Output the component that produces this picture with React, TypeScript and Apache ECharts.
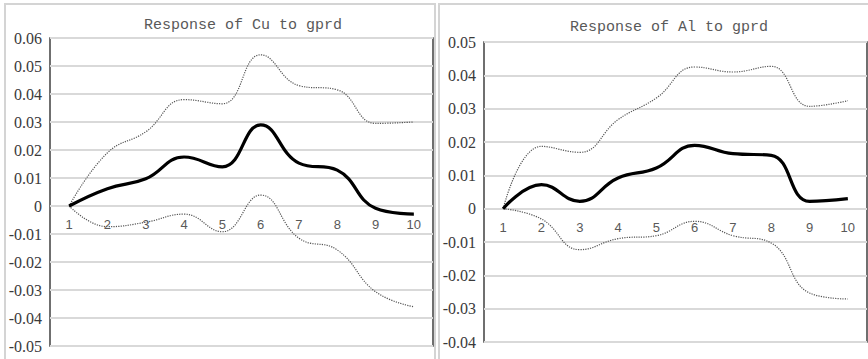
import React, { useEffect, useRef } from "react";
import * as echarts from "echarts";

const periods = ["1", "2", "3", "4", "5", "6", "7", "8", "9", "10"];

const cuResponse = [0, 0.0062, 0.0097, 0.0175, 0.014, 0.029, 0.0153, 0.0128, -0.0008, -0.0029];
const cuUpper = [0, 0.019, 0.0265, 0.038, 0.0365, 0.054, 0.043, 0.0415, 0.0295, 0.030];
const cuLower = [0, -0.0074, -0.0058, -0.0029, -0.0092, 0.0039, -0.0115, -0.0157, -0.0306, -0.036];

const alResponse = [0, 0.0072, 0.0022, 0.0092, 0.0122, 0.019, 0.0165, 0.016, 0.0022, 0.003];
const alUpper = [0, 0.0187, 0.0169, 0.0267, 0.0332, 0.0425, 0.041, 0.0427, 0.0307, 0.0324];
const alLower = [0, -0.0031, -0.0123, -0.009, -0.0081, -0.0038, -0.0081, -0.0103, -0.0253, -0.0271];

const cuTitle = "Response of Cu to gprd";
const alTitle = "Response of Al to gprd";

const yFmt = (v: number) => (Math.abs(v) < 1e-9 ? "0" : v.toFixed(2));

export default function App() {
  const ref = useRef<HTMLDivElement>(null);
  useEffect(() => {
    if (!ref.current) return;
    const chart = echarts.init(ref.current, null, { renderer: "svg" });
    const mkX = (gi: number, labelMargin: number) => ({
      type: "category",
      gridIndex: gi,
      data: periods,
      boundaryGap: true,
      axisLine: { show: false, onZero: false },
      axisTick: { show: false },
      axisLabel: {
        margin: labelMargin,
        color: "#595959",
        fontSize: 13,
        fontFamily: "Liberation Sans, sans-serif",
      },
      splitLine: { show: false },
    });
    const mkY = (gi: number, min: number, max: number) => ({
      type: "value",
      gridIndex: gi,
      min,
      max,
      interval: 0.01,
      axisLine: { show: false },
      axisTick: { show: false },
      axisLabel: {
        formatter: yFmt,
        margin: 8,
        color: "#3a3a3a",
        fontSize: 16,
        fontFamily: "Liberation Serif, serif",
      },
      splitLine: { show: true, lineStyle: { color: "#d9d9d9", width: 2 } },
    });
    const mkSeries = (gi: number, main: number[], up: number[], lo: number[]) => [
      {
        type: "line",
        xAxisIndex: gi,
        yAxisIndex: gi,
        data: up,
        smooth: 0.45,
        symbol: "none",
        lineStyle: { color: "#555555", width: 1.2, type: "dotted" },
      },
      {
        type: "line",
        xAxisIndex: gi,
        yAxisIndex: gi,
        data: lo,
        smooth: 0.45,
        symbol: "none",
        lineStyle: { color: "#555555", width: 1.2, type: "dotted" },
      },
      {
        type: "line",
        xAxisIndex: gi,
        yAxisIndex: gi,
        data: main,
        smooth: 0.45,
        symbol: "none",
        lineStyle: { color: "#000000", width: 3.2 },
        z: 5,
      },
    ];
    chart.setOption({
      animation: false,
      backgroundColor: "#ffffff",
      grid: [
        { left: 50, top: 38, width: 383, height: 308, outerBoundsMode: "none", containLabel: false, show: true, borderColor: "#404040", borderWidth: 1.5, backgroundColor: "transparent" },
        { left: 484, top: 42, width: 383, height: 300, outerBoundsMode: "none", containLabel: false, show: true, borderColor: "#404040", borderWidth: 1.5, backgroundColor: "transparent" },
      ],
      xAxis: [mkX(0, -128), mkX(1, -121)],
      yAxis: [mkY(0, -0.05, 0.06), mkY(1, -0.04, 0.05)],
      series: [...mkSeries(0, cuResponse, cuUpper, cuLower), ...mkSeries(1, alResponse, alUpper, alLower)],
      graphic: [
        { type: "rect", shape: { x: 5, y: 4, width: 430, height: 370 }, style: { fill: "none", stroke: "#d4d4d4", lineWidth: 2 }, silent: true },
        { type: "rect", shape: { x: 439, y: 4, width: 440, height: 370 }, style: { fill: "none", stroke: "#d4d4d4", lineWidth: 2 }, silent: true },
        {
          type: "text",
          x: 243,
          y: 25,
          style: { text: cuTitle, textAlign: "center", textVerticalAlign: "middle", fontSize: 15, fontFamily: "Liberation Mono, monospace", fill: "#595959" },
        },
        {
          type: "text",
          x: 669,
          y: 27,
          style: { text: alTitle, textAlign: "center", textVerticalAlign: "middle", fontSize: 15, fontFamily: "Liberation Mono, monospace", fill: "#595959" },
        },
      ],
    });
    return () => chart.dispose();
  }, []);
  return (
    <div
      ref={ref}
      style={{ position: "absolute", left: 0, top: 0, width: 868, height: 359 }}
    />
  );
}
